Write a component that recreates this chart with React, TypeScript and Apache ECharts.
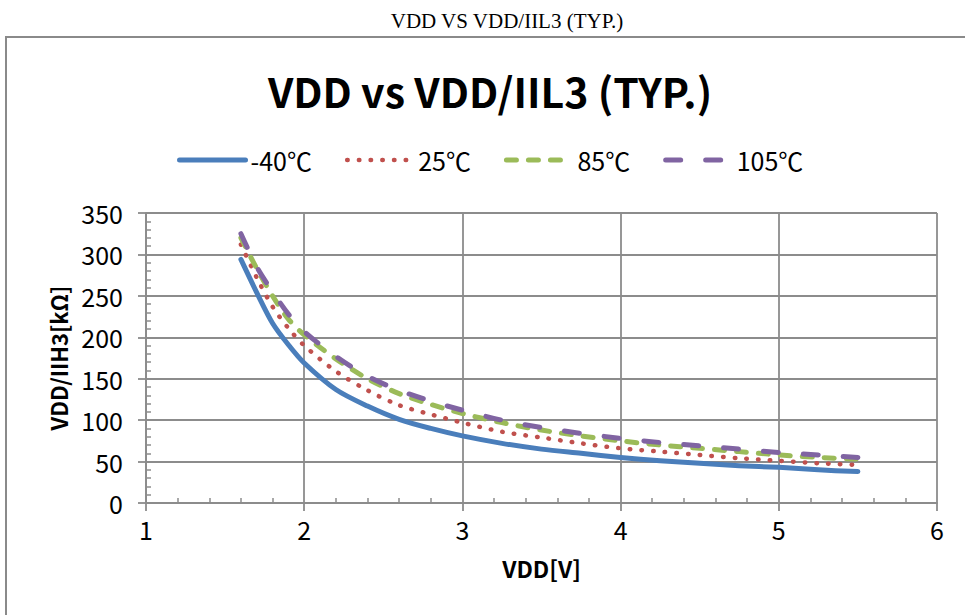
import React, { useEffect, useRef } from "react";
import * as echarts from "echarts";

const vdd = [1.6, 1.7, 1.8, 1.9, 2.0, 2.2, 2.4, 2.6, 2.8, 3.0, 3.25, 3.5, 3.75, 4.0, 4.25, 4.5, 4.75, 5.0, 5.25, 5.5];
const tM40 = [294, 254, 217, 191, 169, 137, 117, 101, 90, 81, 72, 65, 60, 55, 51, 48, 45, 43, 40, 38];
const t25 = [312, 272, 237, 211, 190, 159, 136, 118, 107, 97, 86, 79, 72, 66, 62, 58, 54, 51, 48, 46];
const t85 = [320, 283, 250, 222, 203, 174, 150, 132, 119, 108, 97, 88, 81, 75, 70, 66, 62, 58, 55, 53];
const t105 = [325, 285, 255, 228, 207, 177, 153, 136, 123, 112, 100, 91, 84, 78, 73, 69, 65, 61, 58, 55];
const seriesNames = ["-40℃", "25℃", "85℃", "105℃"];
const seriesValues = [tM40, t25, t85, t105];
const pageTitle = "VDD VS VDD/IIL3 (TYP.)";
const chartTitle = "VDD vs VDD/IIL3 (TYP.)";
const xName = "VDD[V]";
const yName = "VDD/IIH3[kΩ]";
const xMin = 1, xMax = 6, xStep = 1;
const yMin = 0, yMax = 350, yStep = 50;

const colors = ["#4a7ebb", "#c0504d", "#9bbb59", "#8064a2"];
const widths = [5, 4.5, 5, 5];
const dashes: any[] = ["solid", [0.5, 11.2], [10, 12], [15, 25]];

const GRID = { left: 146, right: 28, top: 213, bottom: 112, containLabel: false };
const sans = "'Noto Sans CJK JP', 'Noto Sans', sans-serif";

export default function App() {
  const ref = useRef<HTMLDivElement>(null);
  useEffect(() => {
    if (!ref.current) return;
    const chart = echarts.init(ref.current, undefined, { renderer: "svg" });
    const series: any[] = seriesNames.map((name, i) => ({
      name,
      type: "line",
      xAxisIndex: 0,
      yAxisIndex: 0,
      data: vdd.map((x, k) => [x, seriesValues[i][k]]),
      symbol: "none",
      smooth: 0.3,
      z: 10 + i,
      lineStyle: { color: colors[i], width: widths[i], type: dashes[i], cap: "round", join: "round" },
      itemStyle: { color: colors[i] },
    }));
    series.push({
      name: "_minor",
      type: "line",
      xAxisIndex: 1,
      yAxisIndex: 1,
      data: [[xMin, yMin]],
      symbol: "none",
      silent: true,
      lineStyle: { opacity: 0 },
    });
    const gridLine = { show: true, lineStyle: { color: "#8c8c8c", width: 1.8 } };
    chart.setOption({
      animation: false,
      backgroundColor: "#ffffff",
      grid: [GRID, { ...GRID }],
      graphic: [
        {
          type: "rect",
          shape: { x: 6, y: 37, width: 1200, height: 800 },
          style: { fill: "none", stroke: "#8a8a8a", lineWidth: 2 },
          silent: true,
        },
        {
          type: "text",
          x: 507,
          y: 21,
          style: {
            text: pageTitle,
            fontFamily: "'Liberation Serif', 'DejaVu Serif', serif",
            fontSize: 21,
            fill: "#000",
            textAlign: "center",
            textVerticalAlign: "middle",
          },
        },
        {
          type: "text",
          x: 490,
          y: 90,
          style: {
            text: chartTitle,
            fontFamily: sans,
            fontWeight: "bold",
            fontSize: 41,
            fill: "#000",
            textAlign: "center",
            textVerticalAlign: "middle",
          },
        },
      ],
      legend: {
        left: 172,
        top: 142,
        itemWidth: 66,
        itemHeight: 26,
        itemGap: 33,
        data: seriesNames.map((n, i) => ({
          name: n,
          itemStyle: { opacity: 0 },
          lineStyle: { color: colors[i], width: widths[i], type: dashes[i], cap: "round" },
        })),
        textStyle: { fontFamily: sans, fontSize: 25, lineHeight: 26, color: "#000", padding: [0, 0, 0, 0] },
      },
      xAxis: [
        {
          type: "value",
          gridIndex: 0,
          min: xMin,
          max: xMax,
          interval: xStep,
          name: xName,
          nameLocation: "middle",
          nameGap: 53,
          nameTextStyle: { fontFamily: sans, fontWeight: "bold", fontSize: 23, color: "#000" },
          axisLine: { show: true, onZero: false, lineStyle: { color: "#8c8c8c", width: 1.8 } },
          axisTick: { show: true, inside: false, length: 8, lineStyle: { color: "#8c8c8c", width: 1.8 } },
          axisLabel: { fontFamily: sans, fontSize: 25, color: "#000", margin: 13 },
          splitLine: gridLine,
          minorTick: { show: false },
        },
        {
          type: "value",
          gridIndex: 1,
          min: xMin,
          max: xMax,
          interval: xStep,
          axisLine: { show: false },
          axisTick: { show: false, inside: true },
          axisLabel: { show: false },
          splitLine: { show: false },
          minorTick: { show: true, splitNumber: 5, length: 5, lineStyle: { color: "#8c8c8c", width: 1.5 } },
        },
      ],
      yAxis: [
        {
          type: "value",
          gridIndex: 0,
          min: yMin,
          max: yMax,
          interval: yStep,
          name: yName,
          nameLocation: "middle",
          nameGap: 77,
          nameRotate: 90,
          nameTextStyle: { fontFamily: sans, fontWeight: "bold", fontSize: 22, color: "#000" },
          axisLine: { show: true, onZero: false, lineStyle: { color: "#8c8c8c", width: 1.8 } },
          axisTick: { show: true, inside: false, length: 8, lineStyle: { color: "#8c8c8c", width: 1.8 } },
          axisLabel: { fontFamily: sans, fontSize: 25, color: "#000", margin: 23 },
          splitLine: gridLine,
          minorTick: { show: false },
        },
        {
          type: "value",
          gridIndex: 1,
          min: yMin,
          max: yMax,
          interval: yStep,
          axisLine: { show: false },
          axisTick: { show: false, inside: true },
          axisLabel: { show: false },
          splitLine: { show: false },
          minorTick: { show: true, splitNumber: 5, length: 5, lineStyle: { color: "#8c8c8c", width: 1.5 } },
        },
      ],
      series,
    });
    return () => chart.dispose();
  }, []);
  return (
    <div
      ref={ref}
      style={{ position: "fixed", left: 0, top: 0, width: 965, height: 615, background: "#fff" }}
    />
  );
}
